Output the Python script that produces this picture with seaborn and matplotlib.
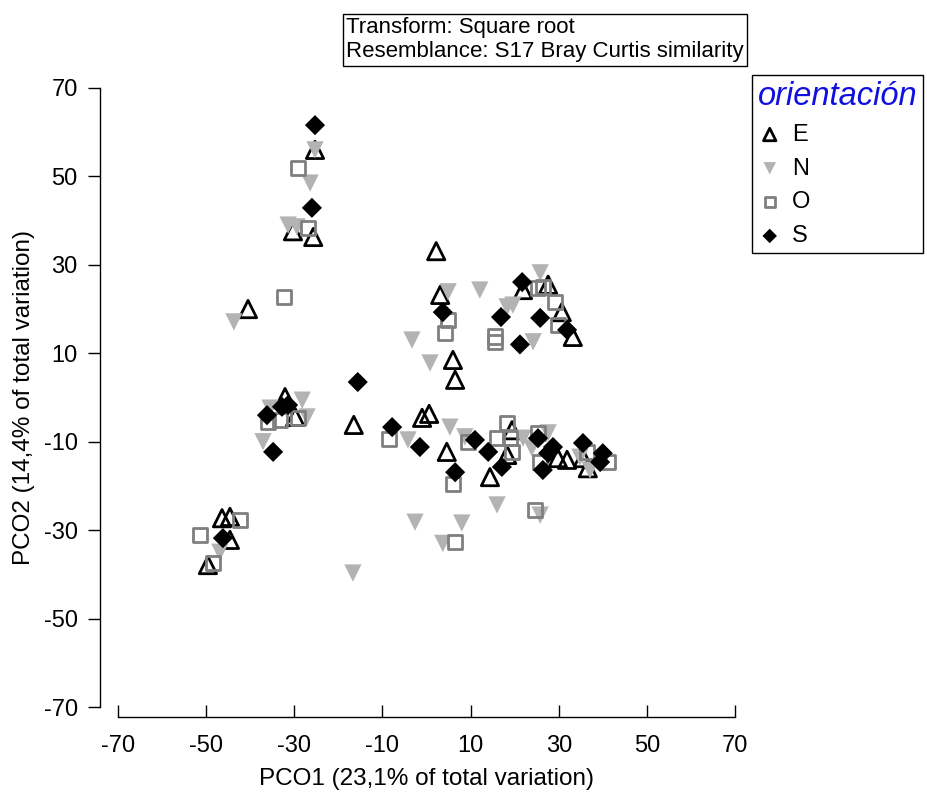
import numpy as np
import pandas as pd
import matplotlib
matplotlib.use("Agg")
import matplotlib.pyplot as plt
import seaborn as sns

# PCO scores per orientation group
e_x = [-25.3, -30.3, -25.7, -40.5, -32.1, -29.8, -16.5, 2.2, 3.1, 6.0, 6.5, -1.0, 0.6,
       4.6, 14.4, 19.4, 18.3, 21.9, 27.6, 30.7, 33.2, 29.8, 31.9, 35.5, 36.6,
       -46.4, -44.6, -44.6, -49.6]
e_y = [56.0, 37.6, 36.3, 20.0, 0.1, -4.4, -6.2, 33.1, 23.2, 8.5, 4.0, -4.6, -3.7,
       -12.3, -18.0, -7.4, -13.0, 24.3, 25.5, 19.3, 13.7, -13.7, -14.1, -13.7, -16.0,
       -27.3, -27.0, -32.2, -37.9]

n_x = [-25.3, -26.4, -29.4, -31.4, -43.7, -28.2, -27.1, -35.5, -37.1, -46.9, -16.7,
       4.9, 12.1, -3.3, 0.8, -4.2, 5.3, 8.7, -2.6, 8.0, 3.7, 16.0, 25.8,
       19.6, 18.3, 24.2, 25.8, 21.9, 23.9, 27.6, 34.8, 37.1]
n_y = [56.0, 48.5, 38.6, 39.0, 17.1, -0.6, -4.4, -2.4, -10.0, -35.0, -39.7,
       23.9, 24.3, 13.0, 7.8, -9.6, -6.7, -8.9, -28.2, -28.4, -33.0, -24.3, -26.6,
       20.9, 20.5, 12.6, 28.2, -9.2, -11.4, -8.0, -13.5, -16.4]

o_x = [-29.1, -26.9, -32.3, -35.9, -33.2, -29.2, -42.3, -51.4, -48.4, -8.5,
       4.9, 4.2, 6.0, 6.5, 15.5, 15.5, 9.4, 18.3, 16.0, 19.0, 19.4,
       25.3, 25.8, 24.6, 25.3, 26.4, 29.2, 29.8, 36.4, 41.2]
o_y = [51.9, 38.3, 22.7, -5.5, -5.1, -4.6, -27.7, -31.1, -37.4, -9.4,
       17.5, 14.6, -19.6, -32.7, 12.6, 13.8, -10.0, -5.8, -9.2, -9.2, -12.3,
       -8.0, -14.6, -25.5, 24.8, 25.0, 21.6, 16.4, -12.3, -14.6]

s_x = [-25.3, -26.0, -36.2, -32.8, -31.4, -34.8, -46.2, -15.6, 3.7,
       -7.8, -1.5, 6.5, 11.0, 14.0, 17.1, 16.9, 21.2, 21.7, 25.8, 31.9,
       25.3, 26.4, 28.7, 27.6, 35.5, 40.0, 39.4]
s_y = [61.6, 42.9, -4.0, -2.1, -1.7, -12.3, -31.8, 3.5, 19.3,
       -6.7, -11.2, -16.9, -9.6, -12.3, -15.7, 18.2, 12.0, 26.1, 18.0, 15.3,
       -9.2, -16.4, -11.2, -12.6, -10.3, -12.6, -14.6]

groups = ["E", "N", "O", "S"]
ticks = [-70, -50, -30, -10, 10, 30, 50, 70]

df = pd.concat([
    pd.DataFrame({"pco1": e_x, "pco2": e_y, "orientacion": "E"}),
    pd.DataFrame({"pco1": n_x, "pco2": n_y, "orientacion": "N"}),
    pd.DataFrame({"pco1": o_x, "pco2": o_y, "orientacion": "O"}),
    pd.DataFrame({"pco1": s_x, "pco2": s_y, "orientacion": "S"}),
], ignore_index=True)

sns.set_style("white")
plt.rcParams["font.family"] = ["Liberation Sans", "DejaVu Sans"]
plt.rcParams["axes.unicode_minus"] = False
plt.rcParams["text.color"] = "black"
plt.rcParams["axes.labelcolor"] = "black"

fig = plt.figure(figsize=(9.28, 7.93), dpi=100)
ax = fig.add_axes([118 / 928, 86 / 793, 617 / 928, 619 / 793])

styles = {
    "E": dict(marker="^", s=155, facecolor="none", edgecolor="black", linewidth=2.0),
    "N": dict(marker="v", s=155, facecolor="#b3b3b3", edgecolor="none", linewidth=0),
    "O": dict(marker="s", s=105, facecolor="none", edgecolor="#7f7f7f", linewidth=2.0),
    "S": dict(marker="D", s=105, facecolor="black", edgecolor="none", linewidth=0),
}
for g in groups:
    sns.scatterplot(data=df[df["orientacion"] == g], x="pco1", y="pco2",
                    ax=ax, label=g, **styles[g])

ax.set_xlim(-70, 70)
ax.set_ylim(-70, 70)
ax.set_xticks(ticks)
ax.set_yticks(ticks)
for side in ("top", "right"):
    ax.spines[side].set_visible(False)
ax.spines["left"].set_position(("outward", 13))
ax.spines["bottom"].set_position(("outward", 7))
for side in ("left", "bottom"):
    ax.spines[side].set_color("black")
    ax.spines[side].set_linewidth(1.0)
ax.tick_params(axis="x", bottom=True, direction="in", length=9, width=1, pad=13,
               labelsize=17, colors="black")
ax.tick_params(axis="y", left=True, direction="out", length=9, width=1, pad=7,
               labelsize=17, colors="black")
ax.set_xlabel("PCO1 (23,1% of total variation)", fontsize=17.5, labelpad=8)
ax.set_ylabel("PCO2 (14,4% of total variation)", fontsize=17.5, labelpad=6)

leg = ax.legend(title="orientación", loc="upper left",
                bbox_to_anchor=(752 / 928, 1 - 75 / 793),
                bbox_transform=fig.transFigure, frameon=True, fancybox=False,
                edgecolor="black", fontsize=17, title_fontsize=23.5,
                markerscale=0.72, handlelength=1.0, handletextpad=0.45,
                labelspacing=0.5, borderpad=0.25, borderaxespad=0,
                alignment="left", framealpha=1)
leg.get_frame().set_linewidth(1.0)
leg.get_title().set_color("#1010e0")
leg.get_title().set_fontstyle("italic")

fig.text(346 / 928, 1 - 17 / 793,
         "Transform: Square root\nResemblance: S17 Bray Curtis similarity",
         ha="left", va="top", fontsize=16, linespacing=1.2, color="black",
         bbox=dict(boxstyle="square,pad=0.15", fc="white", ec="black", lw=1))

fig.savefig("out.png", dpi=100)
